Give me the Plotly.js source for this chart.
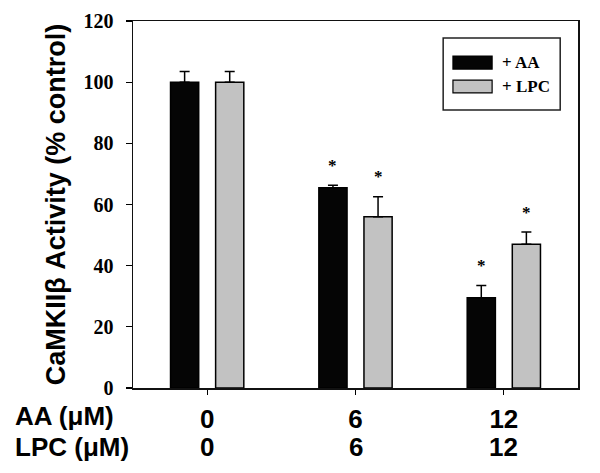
<!DOCTYPE html>
<html>
<head>
<meta charset="utf-8">
<script src="https://cdn.plot.ly/plotly-3.0.1.min.js"></script>
<style>html,body{margin:0;padding:0;background:#fff;}</style>
</head>
<body>
<div id="chart" style="width:600px;height:473px;"></div>
<script>
// ---- data ----
const aaConc = ['0', '6', '12'];
const lpcConc = ['0', '6', '12'];
const aaValues = [100, 65.5, 29.5];
const aaErrors = [3.5, 0.8, 4];
const lpcValues = [100, 56, 47];
const lpcErrors = [3.5, 6.5, 4];
const aaSig = ['', '*', '*'];
const lpcSig = ['', '*', '*'];
const seriesNames = ['+ AA', '+ LPC'];
const rowLabels = ['AA (μM)', 'LPC (μM)'];
const yTicks = [0, 20, 40, 60, 80, 100, 120];

const xIdx = aaConc.map((_, i) => i);
const blackC = '#050505';
const grayC = '#c2c2c2';
const labelFont = {family: 'Liberation Sans', size: 26, color: '#000', weight: 'bold'};

const traces = [
  {
    type: 'bar', name: seriesNames[0], x: xIdx, y: aaValues,
    marker: {color: blackC, line: {color: '#000', width: 1.5}},
    error_y: {type: 'data', array: aaErrors, arrayminus: aaErrors.map(() => 0), symmetric: false,
              color: '#000', thickness: 1.5, width: 5},
    showlegend: false, hoverinfo: 'skip'
  },
  {
    type: 'bar', name: seriesNames[1], x: xIdx, y: lpcValues,
    marker: {color: grayC, line: {color: '#000', width: 1.5}},
    error_y: {type: 'data', array: lpcErrors, arrayminus: lpcErrors.map(() => 0), symmetric: false,
              color: '#000', thickness: 1.5, width: 5},
    showlegend: false, hoverinfo: 'skip'
  }
];

const annotations = [];
const groupOffset = 0.152;
function addSig(sig, vals, errs, dx) {
  sig.forEach((s, i) => {
    if (!s) return;
    annotations.push({
      xref: 'x', yref: 'y', x: xIdx[i] + dx, y: vals[i] + errs[i] + 6.5,
      text: s, showarrow: false, xanchor: 'center', yanchor: 'middle',
      font: {family: 'Liberation Serif', size: 17, color: '#000', weight: 'bold'}
    });
  });
}
addSig(aaSig, aaValues, aaErrors, -groupOffset);
addSig(lpcSig, lpcValues, lpcErrors, groupOffset);

// second row of x labels (LPC concentrations)
lpcConc.forEach((c, i) => {
  annotations.push({xref: 'x', yref: 'paper', x: xIdx[i], y: -0.162, xanchor: 'center', yanchor: 'middle',
    text: c, showarrow: false, font: labelFont});
});
// row labels
const rowY = [-0.0763, -0.162];
rowLabels.forEach((t, i) => {
  annotations.push({xref: 'paper', yref: 'paper', x: -0.27, y: rowY[i], xanchor: 'left', yanchor: 'middle',
    text: t, showarrow: false, font: labelFont});
});

// custom legend
const legRows = [
  {name: seriesNames[0], color: blackC, y0: 0.869, y1: 0.9046},
  {name: seriesNames[1], color: grayC, y0: 0.804, y1: 0.839}
];
const shapes = [
  {type: 'rect', xref: 'paper', yref: 'paper', x0: 0.697, x1: 0.96, y0: 0.7575, y1: 0.954,
   line: {color: '#222', width: 1.5}, fillcolor: '#fff', layer: 'above'}
];
legRows.forEach(r => {
  shapes.push({type: 'rect', xref: 'paper', yref: 'paper', x0: 0.719, x1: 0.807, y0: r.y0, y1: r.y1,
    line: {color: '#000', width: 1.2}, fillcolor: r.color, layer: 'above'});
  annotations.push({xref: 'paper', yref: 'paper', x: 0.825, y: (r.y0 + r.y1) / 2, xanchor: 'left', yanchor: 'middle',
    text: r.name, showarrow: false,
    font: {family: 'Liberation Serif', size: 17, color: '#000', weight: 'bold'}});
});

const layout = {
  width: 600, height: 473,
  margin: {l: 133, r: 22, t: 21, b: 85},
  paper_bgcolor: '#fff', plot_bgcolor: '#fff',
  barmode: 'group', bargap: 0.392, bargroupgap: 0.375,
  showlegend: false,
  xaxis: {
    range: [-0.5, 2.5], tickmode: 'array', tickvals: xIdx,
    ticktext: aaConc,
    ticks: 'outside', ticklen: 5, tickwidth: 1.2, tickcolor: '#000',
    showline: true, linecolor: '#111', linewidth: 1.5, mirror: true,
    showgrid: false, zeroline: false, ticklabelstandoff: 2,
    tickfont: labelFont
  },
  yaxis: {
    range: [0, 120], tickmode: 'array', tickvals: yTicks, ticktext: yTicks.map(String),
    ticks: 'outside', ticklen: 6, tickwidth: 1.2, tickcolor: '#000',
    showline: true, linecolor: '#111', linewidth: 1.5, mirror: true,
    showgrid: false, zeroline: false, ticklabelstandoff: 8,
    tickfont: {family: 'Liberation Serif', size: 20, color: '#000', weight: 'bold'},
    title: {text: 'CaMKIIβ Activity (% control)', standoff: 10,
            font: {family: 'Liberation Sans', size: 27, color: '#000', weight: 'bold'}}
  },
  annotations: annotations,
  shapes: shapes
};

Plotly.newPlot('chart', traces, layout, {displayModeBar: false, staticPlot: true});
</script>
</body>
</html>
